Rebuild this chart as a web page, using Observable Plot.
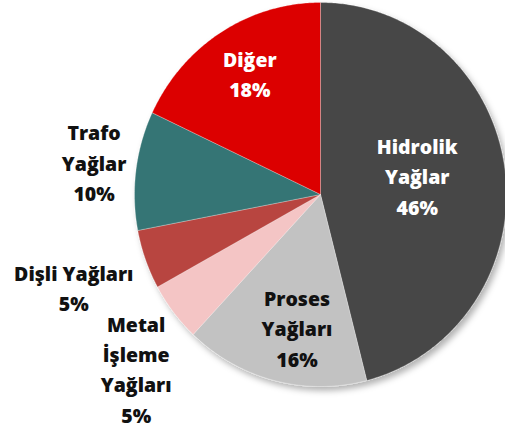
<!DOCTYPE html>
<html><head><meta charset="utf-8">
<script src="https://cdn.jsdelivr.net/npm/d3@7"></script>
<script src="https://cdn.jsdelivr.net/npm/@observablehq/plot@0.6"></script>
<style>body{margin:0;background:#fff} #chart{width:505px;height:432px}</style>
</head><body><div id="chart"></div>
<script>
// Data
const categories = ["Hidrolik\nYağlar", "Proses\nYağları", "Metal\nİşleme\nYağları", "Dişli Yağları", "Trafo\nYağlar", "Diğer"];
const shares = [46, 16, 5, 5, 10, 18];
const colors = ["#474747", "#c2c2c2", "#f4c5c5", "#b8443f", "#357574", "#dc0000"];
const labelOnDark = [true, false, false, false, false, true];
// label placement: radial factor and angular nudge (degrees) from slice mid-angle
const labelRadius = [0.53, 0.70, 1.34, 1.41, 1.23, 0.74];
const labelNudge = [-4, -4, -4.5, 0, 1, 1.5];

const arcs = d3.pie().sort(null).value(d => d)(shares);
const pts = [];
arcs.forEach((a, i) => {
  const name = categories[i];
  pts.push({name, x: 0, y: 0});
  const n = Math.max(2, Math.ceil((a.endAngle - a.startAngle) / 0.01));
  for (let k = 0; k <= n; k++) {
    const t = a.startAngle + (a.endAngle - a.startAngle) * k / n;
    pts.push({name, x: Math.sin(t), y: Math.cos(t)});
  }
  pts.push({name, x: 0, y: 0});
});
const labels = arcs.map((a, i) => {
  const m = (a.startAngle + a.endAngle) / 2 + labelNudge[i] * Math.PI / 180;
  return {text: categories[i] + "\n" + shares[i] + "%", x: labelRadius[i] * Math.sin(m), y: labelRadius[i] * Math.cos(m), dark: labelOnDark[i]};
});

const chart = Plot.plot({
  width: 505, height: 432, margin: 0,
  style: {fontFamily: "'Open Sans', sans-serif", background: "#fff"},
  x: {domain: [-1, 1], range: [134, 506], axis: null},
  y: {domain: [-1, 1], range: [386, 2], axis: null},
  color: {domain: categories, range: colors},
  marks: [
    Plot.line(pts, {x: "x", y: "y", z: "name", fill: "name", stroke: "#ffffff", strokeOpacity: 0.35, strokeWidth: 0.8, curve: "linear"}),
    Plot.text(labels, {filter: d => d.dark, x: "x", y: "y", text: "text", fill: "#ffffff", fontSize: 19.5, fontWeight: 800, lineHeight: 1.55}),
    Plot.text(labels, {filter: d => !d.dark, x: "x", y: "y", text: "text", fill: "#111111", fontSize: 19.5, fontWeight: 800, lineHeight: 1.55})
  ]
});
const ns = "http://www.w3.org/2000/svg";
const defs = document.createElementNS(ns, "defs");
defs.innerHTML = '<filter id="sh" x="-10%" y="-10%" width="130%" height="130%"><feDropShadow dx="3" dy="4" stdDeviation="3" flood-color="#000" flood-opacity="0.3"/></filter>';
chart.insertBefore(defs, chart.firstChild);
const lg = chart.querySelector('g[aria-label="line"]');
if (lg) lg.setAttribute("filter", "url(#sh)");
document.getElementById("chart").appendChild(chart);
</script>
</body></html>
